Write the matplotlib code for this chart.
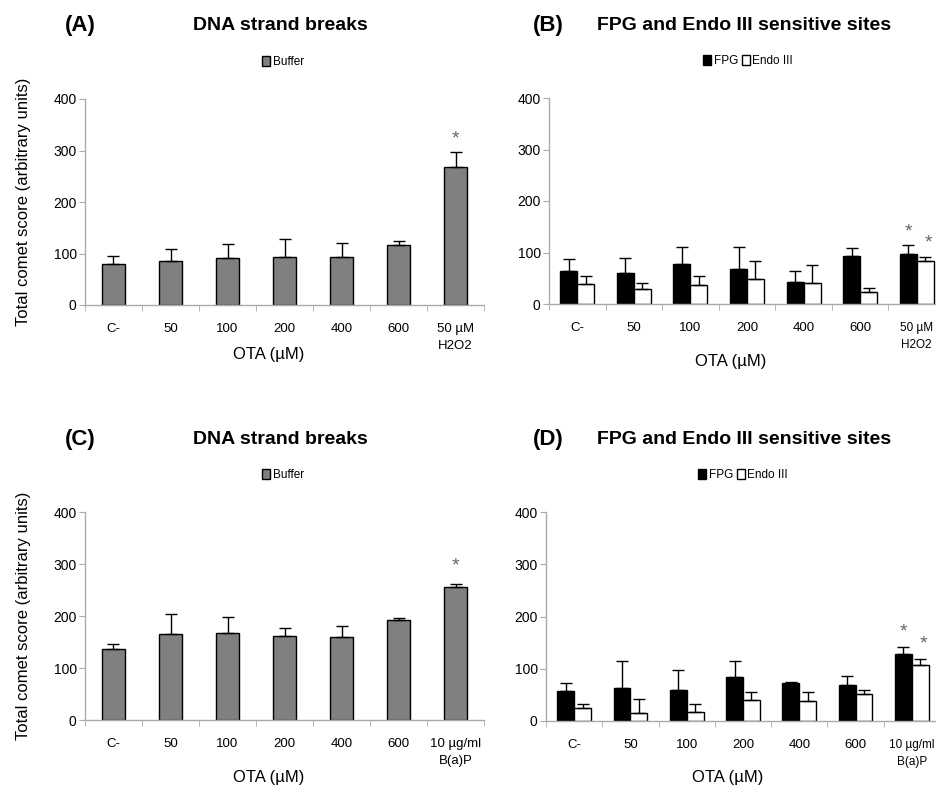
import matplotlib
matplotlib.use('Agg')
import matplotlib.pyplot as plt
import numpy as np

plt.rcParams['font.family'] = ['Liberation Sans', 'DejaVu Sans']

# categories
cats_ab = ['C-', '50', '100', '200', '400', '600', '50 µM\nH2O2']
cats_cd = ['C-', '50', '100', '200', '400', '600', '10 µg/ml\nB(a)P']

# (A) buffer
buf_a = [80, 85, 91, 93, 93, 116, 268]
buf_a_sd = [15, 23, 28, 35, 28, 9, 30]
# (B) FPG / Endo III
fpg_b = [65, 60, 78, 67, 42, 94, 98]
fpg_b_sd = [22, 29, 33, 44, 22, 15, 16]
endo_b = [38, 30, 36, 49, 40, 23, 83]
endo_b_sd = [17, 11, 19, 35, 35, 9, 9]
# (C) buffer
buf_c = [137, 166, 168, 161, 159, 193, 256]
buf_c_sd = [9, 38, 30, 16, 22, 4, 6]
# (D) FPG / Endo III
fpg_d = [57, 64, 59, 84, 73, 69, 129]
fpg_d_sd = [16, 51, 38, 31, 2, 17, 13]
endo_d = [24, 15, 17, 41, 39, 51, 107]
endo_d_sd = [9, 28, 15, 15, 16, 8, 11]

W, H = 937, 785
fig = plt.figure(figsize=(W / 100, H / 100), dpi=100)


def px(left, top, right, bottom):
    return [left / W, 1 - bottom / H, (right - left) / W, (bottom - top) / H]


def style_axes(ax, cats, xlab_y, last_size=9.5):
    n = len(cats)
    ax.set_xlim(0, n)
    ax.set_ylim(0, 400)
    ax.set_yticks([0, 100, 200, 300, 400])
    ax.set_xticks(np.arange(n) + 0.5)
    labels = ax.set_xticklabels(cats, fontsize=9.5, linespacing=1.55)
    labels[-1].set_fontsize(last_size)
    ax.set_xticks(np.arange(n + 1), minor=True)
    ax.tick_params(axis='x', which='major', length=0, pad=13)
    ax.tick_params(axis='x', which='minor', length=4, color='#aaaaaa', direction='out')
    ax.tick_params(axis='y', length=4, color='#aaaaaa', labelsize=10, pad=2)
    for s in ['top', 'right']:
        ax.spines[s].set_visible(False)
    for s in ['left', 'bottom']:
        ax.spines[s].set_color('#aaaaaa')
        ax.spines[s].set_linewidth(1)
    ax.set_xlabel('OTA (µM)', fontsize=12, va='center')
    ax.xaxis.set_label_coords(0.46, xlab_y)


def single_panel(ax, cats, vals, sd, star_y, xlab_y):
    x = np.arange(len(cats)) + 0.5
    bars = ax.bar(x, vals, width=0.4, color='#808080', edgecolor='black', linewidth=1,
                  label='Buffer', zorder=2)
    ax.errorbar(x, vals, yerr=[np.zeros(len(sd)), sd], fmt='none', ecolor='black',
                elinewidth=1, capsize=4, capthick=1, zorder=3)
    ax.text(x[-1], star_y, '*', ha='center', va='center', fontsize=14, color='#666666')
    style_axes(ax, cats, xlab_y)
    return bars


def double_panel(ax, cats, v1, s1, v2, s2, stars, xlab_y):
    x = np.arange(len(cats)) + 0.5
    w = 0.3
    b1 = ax.bar(x - w / 2, v1, width=w, color='black', edgecolor='black', linewidth=1,
                label='FPG', zorder=2)
    b2 = ax.bar(x + w / 2, v2, width=w, color='white', edgecolor='black', linewidth=1,
                label='Endo III', zorder=2)
    ax.errorbar(x - w / 2, v1, yerr=[np.zeros(len(s1)), s1], fmt='none', ecolor='black',
                elinewidth=1, capsize=4, capthick=1, zorder=3)
    ax.errorbar(x + w / 2, v2, yerr=[np.zeros(len(s2)), s2], fmt='none', ecolor='black',
                elinewidth=1, capsize=4, capthick=1, zorder=3)
    ax.text(x[-1] - w / 2, stars[0], '*', ha='center', va='center', fontsize=14, color='#666666')
    ax.text(x[-1] + w / 2 + 0.05, stars[1], '*', ha='center', va='center', fontsize=14, color='#666666')
    style_axes(ax, cats, xlab_y, last_size=8.5)
    return b1, b2


axA = fig.add_axes(px(85, 99, 484, 305))
axB = fig.add_axes(px(549, 98, 945, 304))
axC = fig.add_axes(px(85, 512, 484, 720))
axD = fig.add_axes(px(546, 512, 940, 721))

bA = single_panel(axA, cats_ab, buf_a, buf_a_sd, 322, -0.238)
bB = double_panel(axB, cats_ab, fpg_b, fpg_b_sd, endo_b, endo_b_sd, (140, 118), -0.28)
bC = single_panel(axC, cats_cd, buf_c, buf_c_sd, 296, -0.275)
bD = double_panel(axD, cats_cd, fpg_d, fpg_d_sd, endo_d, endo_d_sd, (170, 148), -0.27)

for ax in (axA, axC):
    ax.set_ylabel('Total comet score (arbitrary units)', fontsize=12, labelpad=16)

# titles and panel letters
bold = dict(fontweight='bold', va='center')
for lx, tx, ty, letter, title in [(80, 280, 25, '(A)', 'DNA strand breaks'),
                                  (548, 744, 25, '(B)', 'FPG and Endo III sensitive sites'),
                                  (80, 280, 439, '(C)', 'DNA strand breaks'),
                                  (548, 744, 439, '(D)', 'FPG and Endo III sensitive sites')]:
    fig.text(lx / W, 1 - ty / H, letter, ha='center', fontsize=16, **bold)
    fig.text(tx / W, 1 - ty / H, title, ha='center', fontsize=14, **bold)

leg_kw = dict(loc='center', frameon=False, fontsize=8.5, handlelength=0.7, handleheight=0.9,
              handletextpad=0.2, columnspacing=0.3, ncol=2, borderpad=0)
fig.legend(handles=[bA], bbox_to_anchor=(283 / W, 1 - 62 / H), **leg_kw)
fig.legend(handles=list(bB), bbox_to_anchor=(748 / W, 1 - 61 / H), **leg_kw)
fig.legend(handles=[bC], bbox_to_anchor=(283 / W, 1 - 475 / H), **leg_kw)
fig.legend(handles=list(bD), bbox_to_anchor=(743 / W, 1 - 475 / H), **leg_kw)

fig.savefig('out.png', dpi=100)
